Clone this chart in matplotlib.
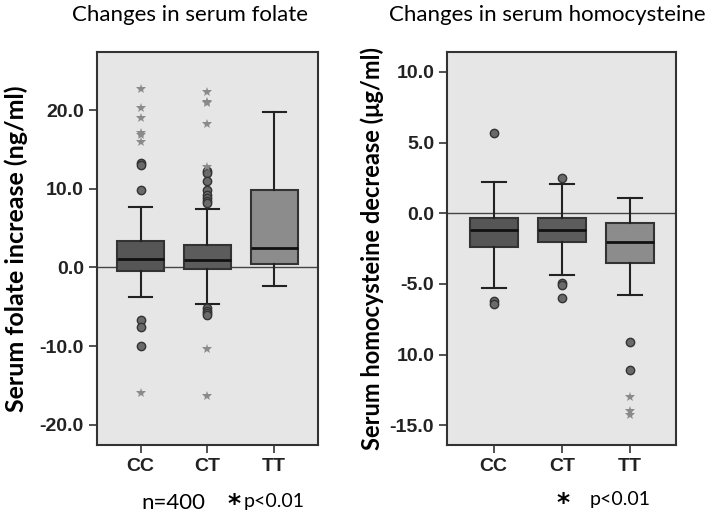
import numpy as np
import matplotlib
matplotlib.use('Agg')
import matplotlib.pyplot as plt

groups = ['CC', 'CT', 'TT']

# serum folate change (ng/ml)
fol_q1 = [-0.4, -0.2, 0.5]
fol_med = [1.1, 1.0, 2.5]
fol_q3 = [3.4, 2.9, 9.9]
fol_wlo = [-3.8, -4.7, -2.4]
fol_whi = [7.7, 7.4, 19.8]
fol_circles = [[13.3, 13.0, 9.8, -6.7, -7.6, -10.0],
               [12.3, 12.0, 11.0, 9.8, 9.2, 8.8, 8.5, 8.2, -5.2, -5.5, -5.8, -6.0],
               []]
fol_stars = [[22.7, 20.3, 19.0, 17.1, 16.9, 15.9, -16.0],
             [22.3, 21.1, 20.9, 18.3, 12.8, -10.4, -16.4],
             []]

# serum homocysteine change (ug/ml)
hcy_q1 = [-2.4, -2.05, -3.55]
hcy_med = [-1.2, -1.2, -2.0]
hcy_q3 = [-0.35, -0.35, -0.7]
hcy_wlo = [-5.3, -4.4, -5.8]
hcy_whi = [2.2, 2.1, 1.1]
hcy_circles = [[5.7, -6.2, -6.4],
               [2.5, -4.9, -5.1, -6.0],
               [-9.1, -11.1]]
hcy_stars = [[], [], [-13.0, -14.0, -14.3]]

box_colors = ['#565656', '#5c5c5c', '#8c8c8c']
TICKFONT = 'Liberation Sans'
LABELFONT = 'Lato'


def draw(ax, q1, med, q3, wlo, whi, circles, stars):
    stats = []
    for i in range(3):
        stats.append(dict(med=med[i], q1=q1[i], q3=q3[i], whislo=wlo[i],
                          whishi=whi[i], fliers=circles[i]))
    ax.axhline(0, color='#444444', lw=1.0, zorder=1)
    bp = ax.bxp(stats, positions=[1, 2, 3], widths=0.7, patch_artist=True,
                showfliers=True,
                medianprops=dict(color='#111111', lw=2),
                whiskerprops=dict(color='#222222', lw=1.5),
                capprops=dict(color='#222222', lw=1.5),
                capwidths=0.35,
                flierprops=dict(marker='o', markersize=6, markerfacecolor='#6a6a6a',
                                markeredgecolor='#333333', markeredgewidth=1.0))
    for patch, c in zip(bp['boxes'], box_colors):
        patch.set_facecolor(c)
        patch.set_edgecolor('#333333')
        patch.set_linewidth(1.5)
        patch.set_zorder(2)
    for i, s in enumerate(stars):
        if s:
            ax.plot([i + 1] * len(s), s, linestyle='none', marker='*',
                    markersize=7, color='#8a8a8a', markeredgewidth=0)
    ax.set_facecolor('#e6e6e6')
    ax.set_xticks([1, 2, 3])
    ax.set_xticklabels(groups)
    for sp in ax.spines.values():
        sp.set_color('#333333')
        sp.set_linewidth(1.5)
    ax.tick_params(axis='both', direction='out', length=6, width=1.2,
                   color='#333333')


def style_ticks(ax):
    for t in ax.get_xticklabels() + ax.get_yticklabels():
        t.set_fontweight('bold')
        t.set_fontfamily(TICKFONT)
        t.set_fontsize(14)
        t.set_color('#222222')


fig = plt.figure(figsize=(7.09, 5.25), dpi=100)
ax1 = fig.add_axes([0.137, 0.152, 0.312, 0.749])
ax2 = fig.add_axes([0.631, 0.152, 0.323, 0.749])

draw(ax1, fol_q1, fol_med, fol_q3, fol_wlo, fol_whi, fol_circles, fol_stars)
ax1.set_xlim(0.35, 3.66)
ax1.set_ylim(-22.6, 27.4)
ax1.set_yticks([20, 10, 0, -10, -20])
ax1.set_yticklabels(['20.0', '10.0', '0.0', '-10.0', '-20.0'])
ax1.set_ylabel('Serum folate increase (ng/ml)', fontsize=18, fontweight='bold',
               family=LABELFONT, labelpad=8)
style_ticks(ax1)

draw(ax2, hcy_q1, hcy_med, hcy_q3, hcy_wlo, hcy_whi, hcy_circles, hcy_stars)
ax2.set_xlim(0.32, 3.68)
ax2.set_ylim(-16.4, 11.4)
ax2.set_yticks([10, 5, 0, -5, -10, -15])
ax2.set_yticklabels(['10.0', '5.0', '0.0', '-5.0', '10.0', '-15.0'])
ax2.set_ylabel('Serum homocysteine decrease (\u03bcg/ml)', fontsize=17,
               fontweight='bold', family=LABELFONT, labelpad=4)
style_ticks(ax2)

fig.text(0.268, 0.972, 'Changes in serum folate', ha='center', va='center',
         fontsize=16, family=LABELFONT)
fig.text(0.772, 0.972, 'Changes in serum homocysteine', ha='center', va='center',
         fontsize=16, family=LABELFONT)

fig.text(0.244, 0.042, 'n=400', ha='center', va='center', fontsize=16,
         family=LABELFONT)
fig.text(0.330, 0.040, '*', ha='center', va='center', fontsize=18, fontweight='bold')
fig.text(0.387, 0.045, 'p<0.01', ha='center', va='center', fontsize=14,
         family=LABELFONT)
fig.text(0.794, 0.042, '*', ha='center', va='center', fontsize=18, fontweight='bold')
fig.text(0.875, 0.048, 'p<0.01', ha='center', va='center', fontsize=14,
         family=LABELFONT)

fig.savefig('out.png', dpi=100)
